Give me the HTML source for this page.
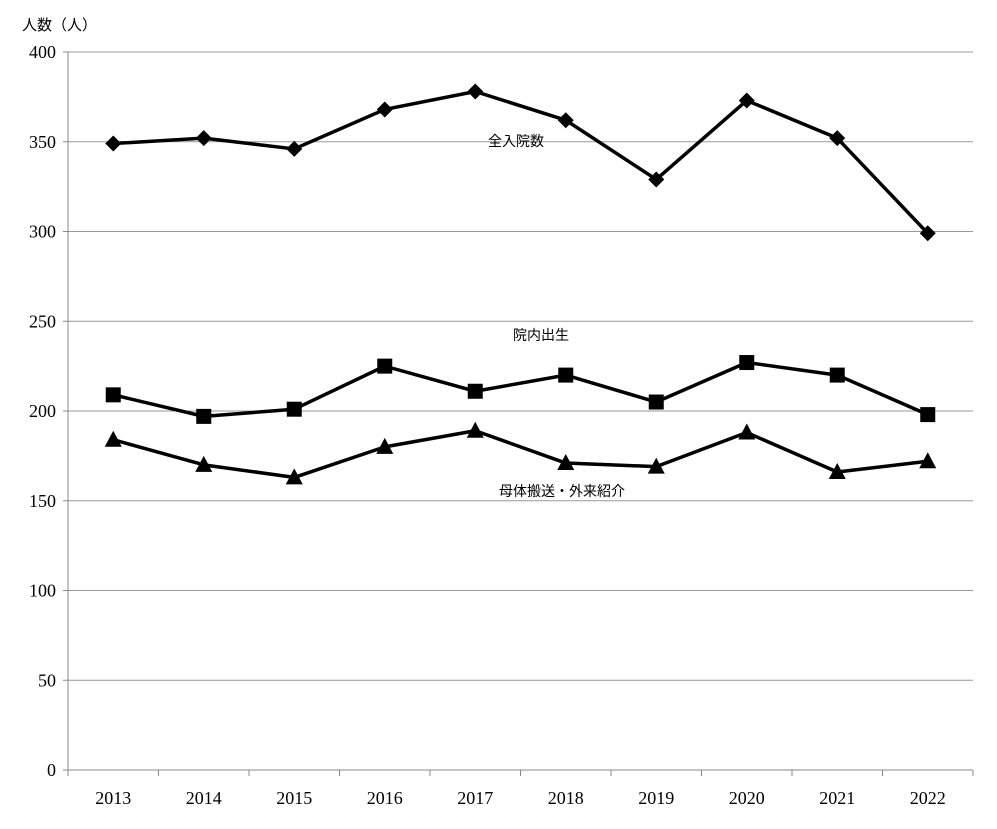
<!DOCTYPE html>
<html><head><meta charset="utf-8"><style>
body{margin:0;background:#fff;}
svg text{font-family:"Liberation Serif","Noto Serif CJK SC",serif;}
.cjk{font-family:"Liberation Sans","Noto Sans CJK JP",sans-serif;}
</style></head><body>
<svg id="chart" width="997" height="824" xmlns="http://www.w3.org/2000/svg">
<text class="cjk" x="22" y="30" font-size="15">人数（人）</text>
<g id="grid"></g><g id="axes"></g><g id="series"></g>
<text class="cjk" x="488" y="146" font-size="14">全入院数</text>
<text class="cjk" x="513" y="340" font-size="14">院内出生</text>
<text class="cjk" x="499" y="496" font-size="14">母体搬送・外来紹介</text>
</svg>
<script>
const categories=["2013","2014","2015","2016","2017","2018","2019","2020","2021","2022"];
const totalAdmissions=[349,352,346,368,378,362,329,373,352,299];
const inborn=[209,197,201,225,211,220,205,227,220,198];
const transport=[184,170,163,180,189,171,169,188,166,172];
const yTicks=[0,50,100,150,200,250,300,350,400];
const NS="http://www.w3.org/2000/svg";
const L=68,R=973,T=52,B=770,yMax=400;
const bw=(R-L)/categories.length;
const x=i=>L+bw*(i+0.5);
const y=v=>B-(v/yMax)*(B-T);
function mk(tag,attrs,parent){const e=document.createElementNS(NS,tag);for(const k in attrs)e.setAttribute(k,attrs[k]);parent.appendChild(e);return e;}
const grid=document.getElementById('grid'),axes=document.getElementById('axes'),ser=document.getElementById('series');
yTicks.forEach(t=>{
  if(t>0){const g=mk('line',{x1:L,x2:R,y1:y(t),y2:y(t),stroke:'#999','stroke-width':1},grid);
  
  }
  const tk=mk('line',{x1:L-5,x2:L,y1:y(t),y2:y(t),stroke:'#888'},axes);
  
  
  const tx=mk('text',{x:L-12,y:y(t)+6,'text-anchor':'end','font-size':18},axes);
  tx.textContent=t;
  
  
});
const ya=mk('line',{x1:L,x2:L,y1:T,y2:B,stroke:'#888'},axes);


const xa=mk('line',{x1:L,x2:R,y1:B,y2:B,stroke:'#888'},axes);


for(let i=0;i<=categories.length;i++){
  const t=mk('line',{x1:L+bw*i,x2:L+bw*i,y1:B,y2:B+6,stroke:'#888'},axes);
  
  
}
categories.forEach((c,i)=>{
  const t=mk('text',{x:x(i),y:804,'text-anchor':'middle','font-size':18},axes);
  t.textContent=c;
  
  
});
function draw(vals,name,marker){
  const p=mk('polyline',{points:vals.map((v,i)=>x(i)+','+y(v)).join(' '),fill:'none',stroke:'#000','stroke-width':3.5,'stroke-linejoin':'round'},ser);
  
  
  vals.forEach((v,i)=>{
    const cx=x(i),cy=y(v);let m;
    if(marker==='diamond')m=mk('polygon',{points:`${cx},${cy-8} ${cx+8},${cy} ${cx},${cy+8} ${cx-8},${cy}`},ser);
    else if(marker==='square')m=mk('rect',{x:cx-7.5,y:cy-7.5,width:15,height:15},ser);
    else m=mk('polygon',{points:`${cx},${cy-9} ${cx+8.5},${cy+7} ${cx-8.5},${cy+7}`},ser);
    m.setAttribute('fill','#000');
    
    
  });
}
draw(totalAdmissions,'total-admissions','diamond');
draw(inborn,'inborn','square');
draw(transport,'transport','triangle');
</script>
</body></html>
